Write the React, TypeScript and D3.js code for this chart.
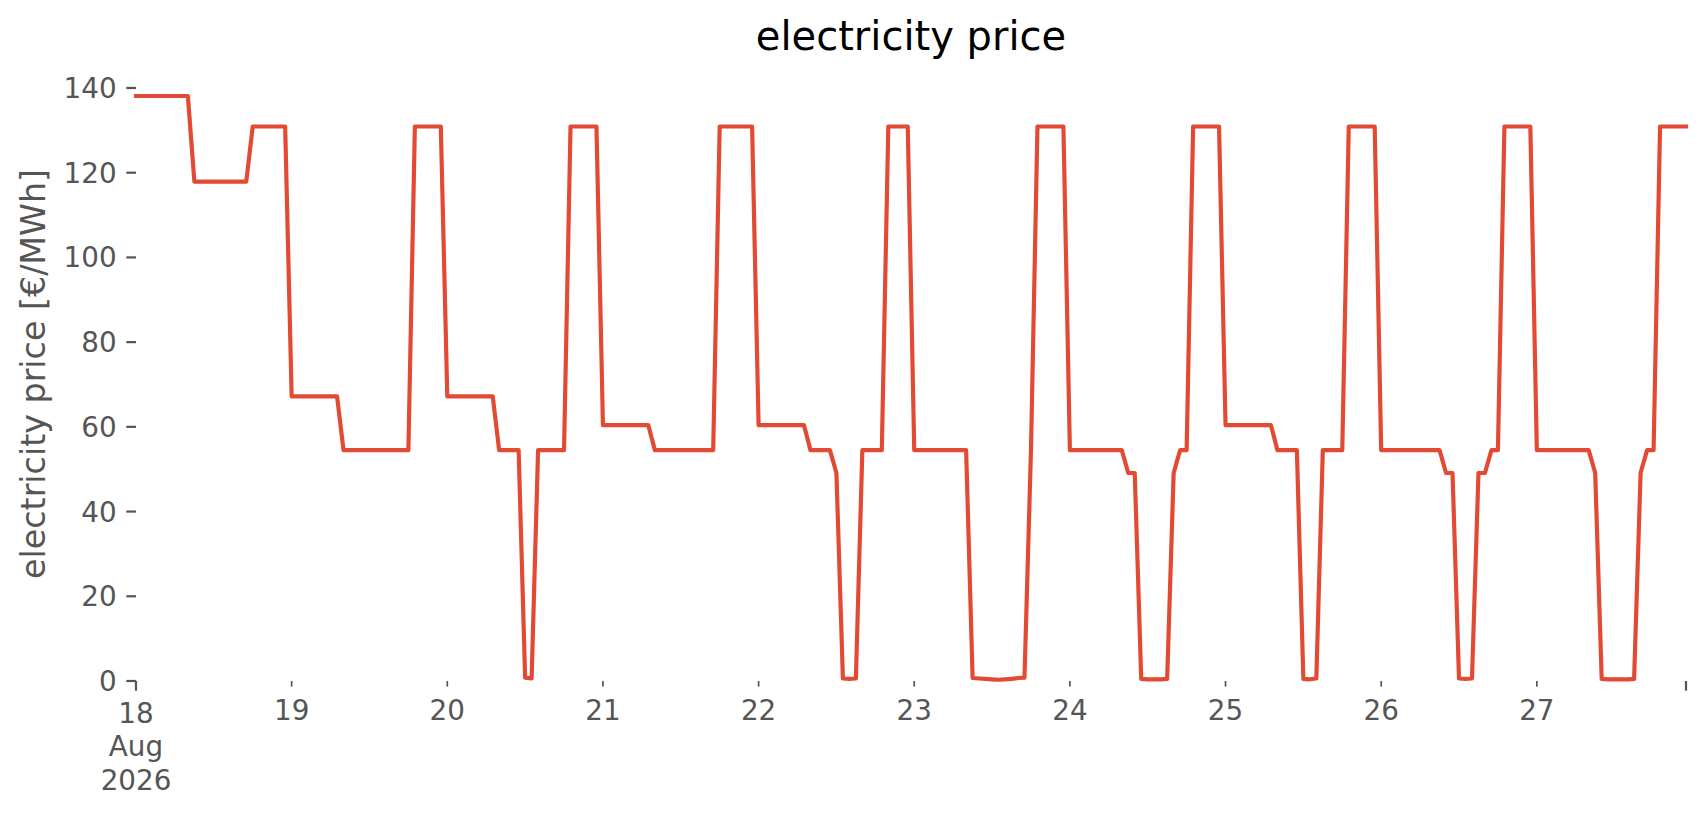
import { scaleLinear, scaleUtc, line } from 'd3';

// hourly day-ahead prices [€/MWh], one array per day (00:00 … 23:00)
const aug18 = [138.1, 138.1, 138.1, 138.1, 138.1, 138.1, 138.1, 138.1, 138.1, 117.9, 117.9, 117.9, 117.9, 117.9, 117.9, 117.9, 117.9, 117.9, 130.9, 130.9, 130.9, 130.9, 130.9, 130.9];
const aug19 = [67.2, 67.2, 67.2, 67.2, 67.2, 67.2, 67.2, 67.2, 54.5, 54.5, 54.5, 54.5, 54.5, 54.5, 54.5, 54.5, 54.5, 54.5, 54.5, 130.9, 130.9, 130.9, 130.9, 130.9];
const aug20 = [67.2, 67.2, 67.2, 67.2, 67.2, 67.2, 67.2, 67.2, 54.5, 54.5, 54.5, 54.5, 0.8, 0.6, 54.5, 54.5, 54.5, 54.5, 54.5, 130.9, 130.9, 130.9, 130.9, 130.9];
const aug21 = [60.4, 60.4, 60.4, 60.4, 60.4, 60.4, 60.4, 60.4, 54.5, 54.5, 54.5, 54.5, 54.5, 54.5, 54.5, 54.5, 54.5, 54.5, 130.9, 130.9, 130.9, 130.9, 130.9, 130.9];
const aug22 = [60.4, 60.4, 60.4, 60.4, 60.4, 60.4, 60.4, 60.4, 54.5, 54.5, 54.5, 54.5, 49.1, 0.6, 0.5, 0.6, 54.5, 54.5, 54.5, 54.5, 130.9, 130.9, 130.9, 130.9];
const aug23 = [54.5, 54.5, 54.5, 54.5, 54.5, 54.5, 54.5, 54.5, 54.5, 0.7, 0.6, 0.5, 0.4, 0.3, 0.4, 0.5, 0.7, 0.8, 54.5, 130.9, 130.9, 130.9, 130.9, 130.9];
const aug24 = [54.5, 54.5, 54.5, 54.5, 54.5, 54.5, 54.5, 54.5, 54.5, 49.1, 49.1, 0.5, 0.4, 0.4, 0.4, 0.5, 49.1, 54.5, 54.5, 130.9, 130.9, 130.9, 130.9, 130.9];
const aug25 = [60.4, 60.4, 60.4, 60.4, 60.4, 60.4, 60.4, 60.4, 54.5, 54.5, 54.5, 54.5, 0.5, 0.4, 0.6, 54.5, 54.5, 54.5, 54.5, 130.9, 130.9, 130.9, 130.9, 130.9];
const aug26 = [54.5, 54.5, 54.5, 54.5, 54.5, 54.5, 54.5, 54.5, 54.5, 54.5, 49.1, 49.1, 0.6, 0.5, 0.6, 49.1, 49.1, 54.5, 54.5, 130.9, 130.9, 130.9, 130.9, 130.9];
const aug27 = [54.5, 54.5, 54.5, 54.5, 54.5, 54.5, 54.5, 54.5, 54.5, 49.1, 0.5, 0.4, 0.4, 0.4, 0.4, 0.5, 49.1, 54.5, 54.5, 130.9, 130.9, 130.9, 130.9, 130.9];

const days = [18, 19, 20, 21, 22, 23, 24, 25, 26, 27];
const dailyPrices = [aug18, aug19, aug20, aug21, aug22, aug23, aug24, aug25, aug26, aug27];
const yTicks = [0, 20, 40, 60, 80, 100, 120, 140];
const firstTickLabel = ['18', 'Aug', '2026'];

const width = 1706;
const height = 815;
const margin = { top: 66.8, right: 20, bottom: 134, left: 136 };
const tickColor = '#555555';
const font = '"DejaVu Sans", sans-serif';

type Point = { time: Date; value: number };

const points: Point[] = dailyPrices.flatMap((hours, d) =>
  hours.map((value, h) => ({ time: new Date(Date.UTC(2026, 7, days[d], h)), value }))
);

export default function App() {
  const plotBottom = height - margin.bottom;
  const xScale = scaleUtc()
    .domain([points[0].time, points[points.length - 1].time])
    .range([margin.left, width - margin.right]);
  const yScale = scaleLinear().domain([0, 145]).range([plotBottom, margin.top]);

  const path = line<Point>()
    .x(p => xScale(p.time))
    .y(p => yScale(p.value))(points) ?? '';

  const majorLen = 9.7;
  const minorLen = 5.6;
  const endTick = points[points.length - 1].time;

  return (
    <div>
      <style>{'body{margin:0}'}</style>
      <svg width={width} height={height} style={{ display: 'block', background: '#fff' }} fontFamily={font}>
        <text x={(margin.left + width - margin.right) / 2} y={50} textAnchor="middle" fontSize={40} fill="#000">
          electricity price
        </text>

        {yTicks.map(tick => (
          <g key={tick}>
            <line x1={margin.left} x2={margin.left - majorLen} y1={yScale(tick)} y2={yScale(tick)} stroke={tickColor} strokeWidth={2.2} />
            <text x={margin.left - majorLen - 9.7} y={yScale(tick) + 10} textAnchor="end" fontSize={27.8} fill={tickColor}>
              {tick}
            </text>
          </g>
        ))}

        <text
          transform={`translate(44.7, ${(margin.top + plotBottom) / 2}) rotate(-90)`}
          textAnchor="middle"
          fontSize={33.3}
          fill={tickColor}
        >
          electricity price [€/MWh]
        </text>

        {days.map((day, i) => {
          const x = xScale(new Date(Date.UTC(2026, 7, day)));
          const major = i === 0;
          return (
            <g key={day}>
              <line x1={x} x2={x} y1={plotBottom} y2={plotBottom + (major ? majorLen : minorLen)} stroke={tickColor} strokeWidth={major ? 2.2 : 1.7} />
              {major ? (
                <text x={x} y={723} textAnchor="middle" fontSize={27.8} fill={tickColor}>
                  {firstTickLabel.map((t, k) => (
                    <tspan key={t} x={x} dy={k === 0 ? 0 : 33.4}>{t}</tspan>
                  ))}
                </text>
              ) : (
                <text x={x} y={720} textAnchor="middle" fontSize={27.8} fill={tickColor}>{day}</text>
              )}
            </g>
          );
        })}
        <line x1={xScale(endTick)} x2={xScale(endTick)} y1={plotBottom} y2={plotBottom + majorLen} stroke={tickColor} strokeWidth={2.2} />

        <path d={path} fill="none" stroke="#E24A33" strokeWidth={4.17} strokeLinejoin="round" strokeLinecap="square" />
      </svg>
    </div>
  );
}
